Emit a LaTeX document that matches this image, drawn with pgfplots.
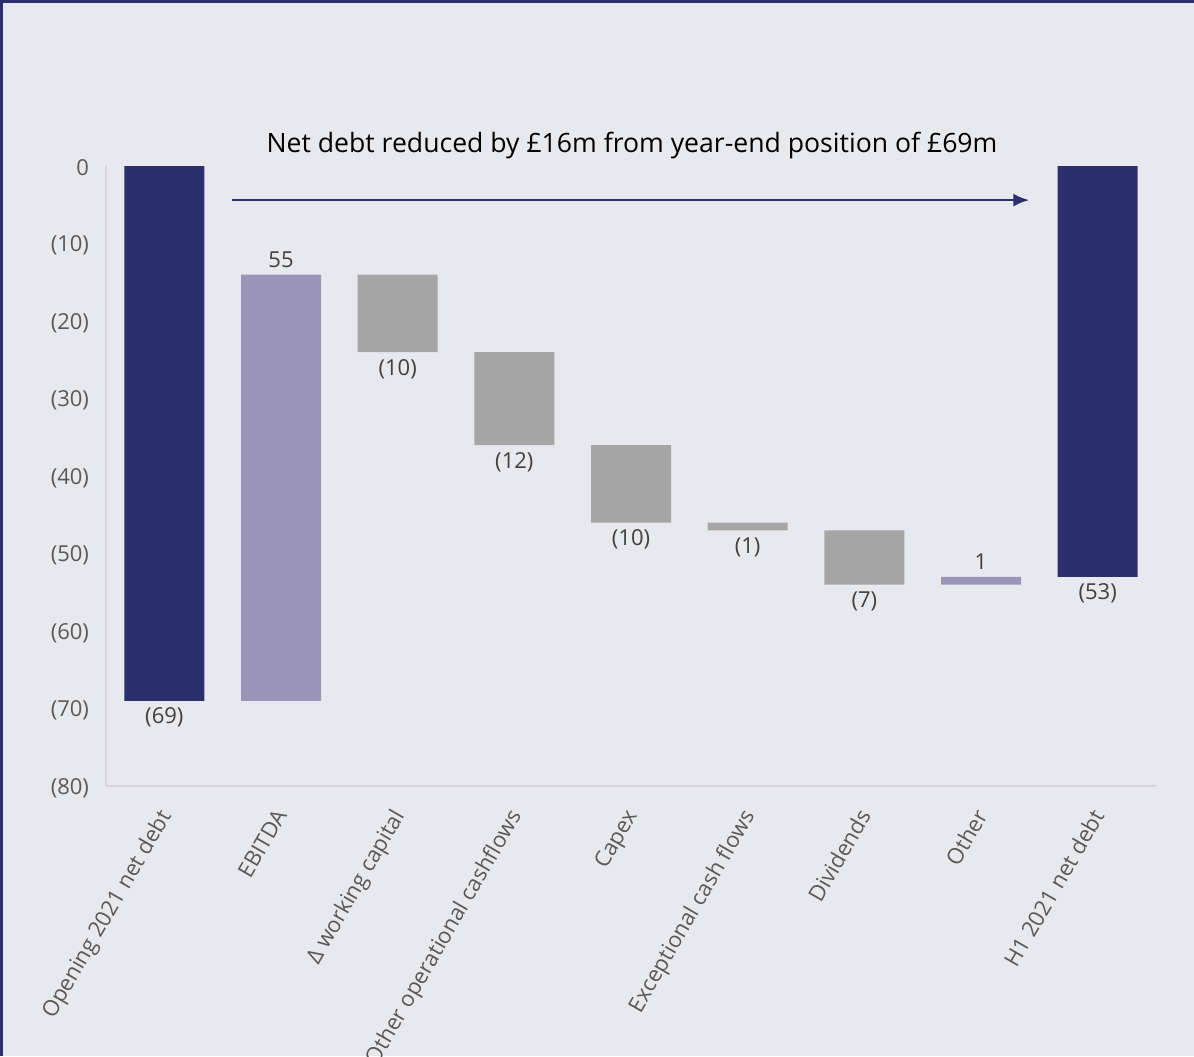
\documentclass[border=0pt]{standalone}
\usepackage{pgfplots}
\pgfplotsset{compat=1.18}
\usepackage{fontspec}
\setmainfont{Open Sans}
\usetikzlibrary{arrows.meta}
\definecolor{navy}{RGB}{43,47,110}
\definecolor{lav}{RGB}{154,149,184}
\definecolor{barg}{RGB}{166,166,166}
\definecolor{bgc}{RGB}{232,233,238}
\definecolor{axg}{RGB}{214,214,218}
\definecolor{tickg}{RGB}{89,89,89}
\definecolor{labg}{RGB}{64,64,64}
\begin{document}
\begin{tikzpicture}[x=1pt,y=1pt]
\fill[bgc] (0,0) rectangle (597,528);
\begin{axis}[
  at={(53pt,135pt)}, anchor=south west,
  scale only axis, width=525pt, height=310pt,
  xmin=-0.5, xmax=8.5, ymin=-80, ymax=0,
  enlargelimits=false, clip=false,
  ybar stacked, bar width=40pt,
  axis x line*=bottom, axis y line*=left,
  axis line style={-, draw=axg, line width=0.8pt},
  major tick length=0pt,
  xtick={0,...,8},
  xticklabels={Opening 2021 net debt, EBITDA, Δ working capital, Other operational cashflows, Capex, Exceptional cash flows, Dividends, Other, H1 2021 net debt},
  x tick label style={xshift=-4pt, yshift=-9pt, rotate=60, anchor=north east, font=\fontsize{11}{13}\selectfont, text=tickg, inner sep=1pt},
  ytick={0,-10,-20,-30,-40,-50,-60,-70,-80},
  yticklabels={0,(10),(20),(30),(40),(50),(60),(70),(80)},
  y tick label style={font=\fontsize{11}{13}\selectfont, text=tickg, anchor=east, xshift=-5pt, yshift=-1pt},
]
% invisible base
\addplot[draw=none, fill=none] coordinates {(0,0) (1,-14) (2,-14) (3,-24) (4,-36) (5,-46) (6,-47) (7,-53) (8,0)};
% totals
\addplot[draw=none, fill=navy] coordinates {(0,-69) (1,0) (2,0) (3,0) (4,0) (5,0) (6,0) (7,0) (8,-53)};
% increases
\addplot[draw=none, fill=lav] coordinates {(0,0) (1,-55) (2,0) (3,0) (4,0) (5,0) (6,0) (7,-1) (8,0)};
% decreases
\addplot[draw=none, fill=barg] coordinates {(0,0) (1,0) (2,-10) (3,-12) (4,-10) (5,-1) (6,-7) (7,0) (8,0)};

\node[below, font=\fontsize{11}{13}\selectfont, text=labg] at (axis cs:0,-69) {(69)};
\node[above, font=\fontsize{11}{13}\selectfont, text=labg] at (axis cs:1,-14) {55};
\node[below, font=\fontsize{11}{13}\selectfont, text=labg] at (axis cs:2,-24) {(10)};
\node[below, font=\fontsize{11}{13}\selectfont, text=labg] at (axis cs:3,-36) {(12)};
\node[below, font=\fontsize{11}{13}\selectfont, text=labg] at (axis cs:4,-46) {(10)};
\node[below, font=\fontsize{11}{13}\selectfont, text=labg] at (axis cs:5,-47) {(1)};
\node[below, font=\fontsize{11}{13}\selectfont, text=labg] at (axis cs:6,-54) {(7)};
\node[above, font=\fontsize{11}{13}\selectfont, text=labg] at (axis cs:7,-53) {1};
\node[below, font=\fontsize{11}{13}\selectfont, text=labg] at (axis cs:8,-53) {(53)};
\draw[navy, line width=1.3pt, -{Latex[length=8pt,width=6.5pt]}] (axis cs:0.583,-4.4) -- (axis cs:7.414,-4.4);
\end{axis}
\node[font=\fontsize{13.3}{16}\selectfont, text=black] at (316,455) {Net debt reduced by £16m from year-end position of £69m};
\fill[navy] (0,526.5) rectangle (597,528);
\fill[navy] (0,0) rectangle (1.5,528);
\pgfresetboundingbox
\path (0,0) rectangle (597,528);
\end{tikzpicture}
\end{document}
